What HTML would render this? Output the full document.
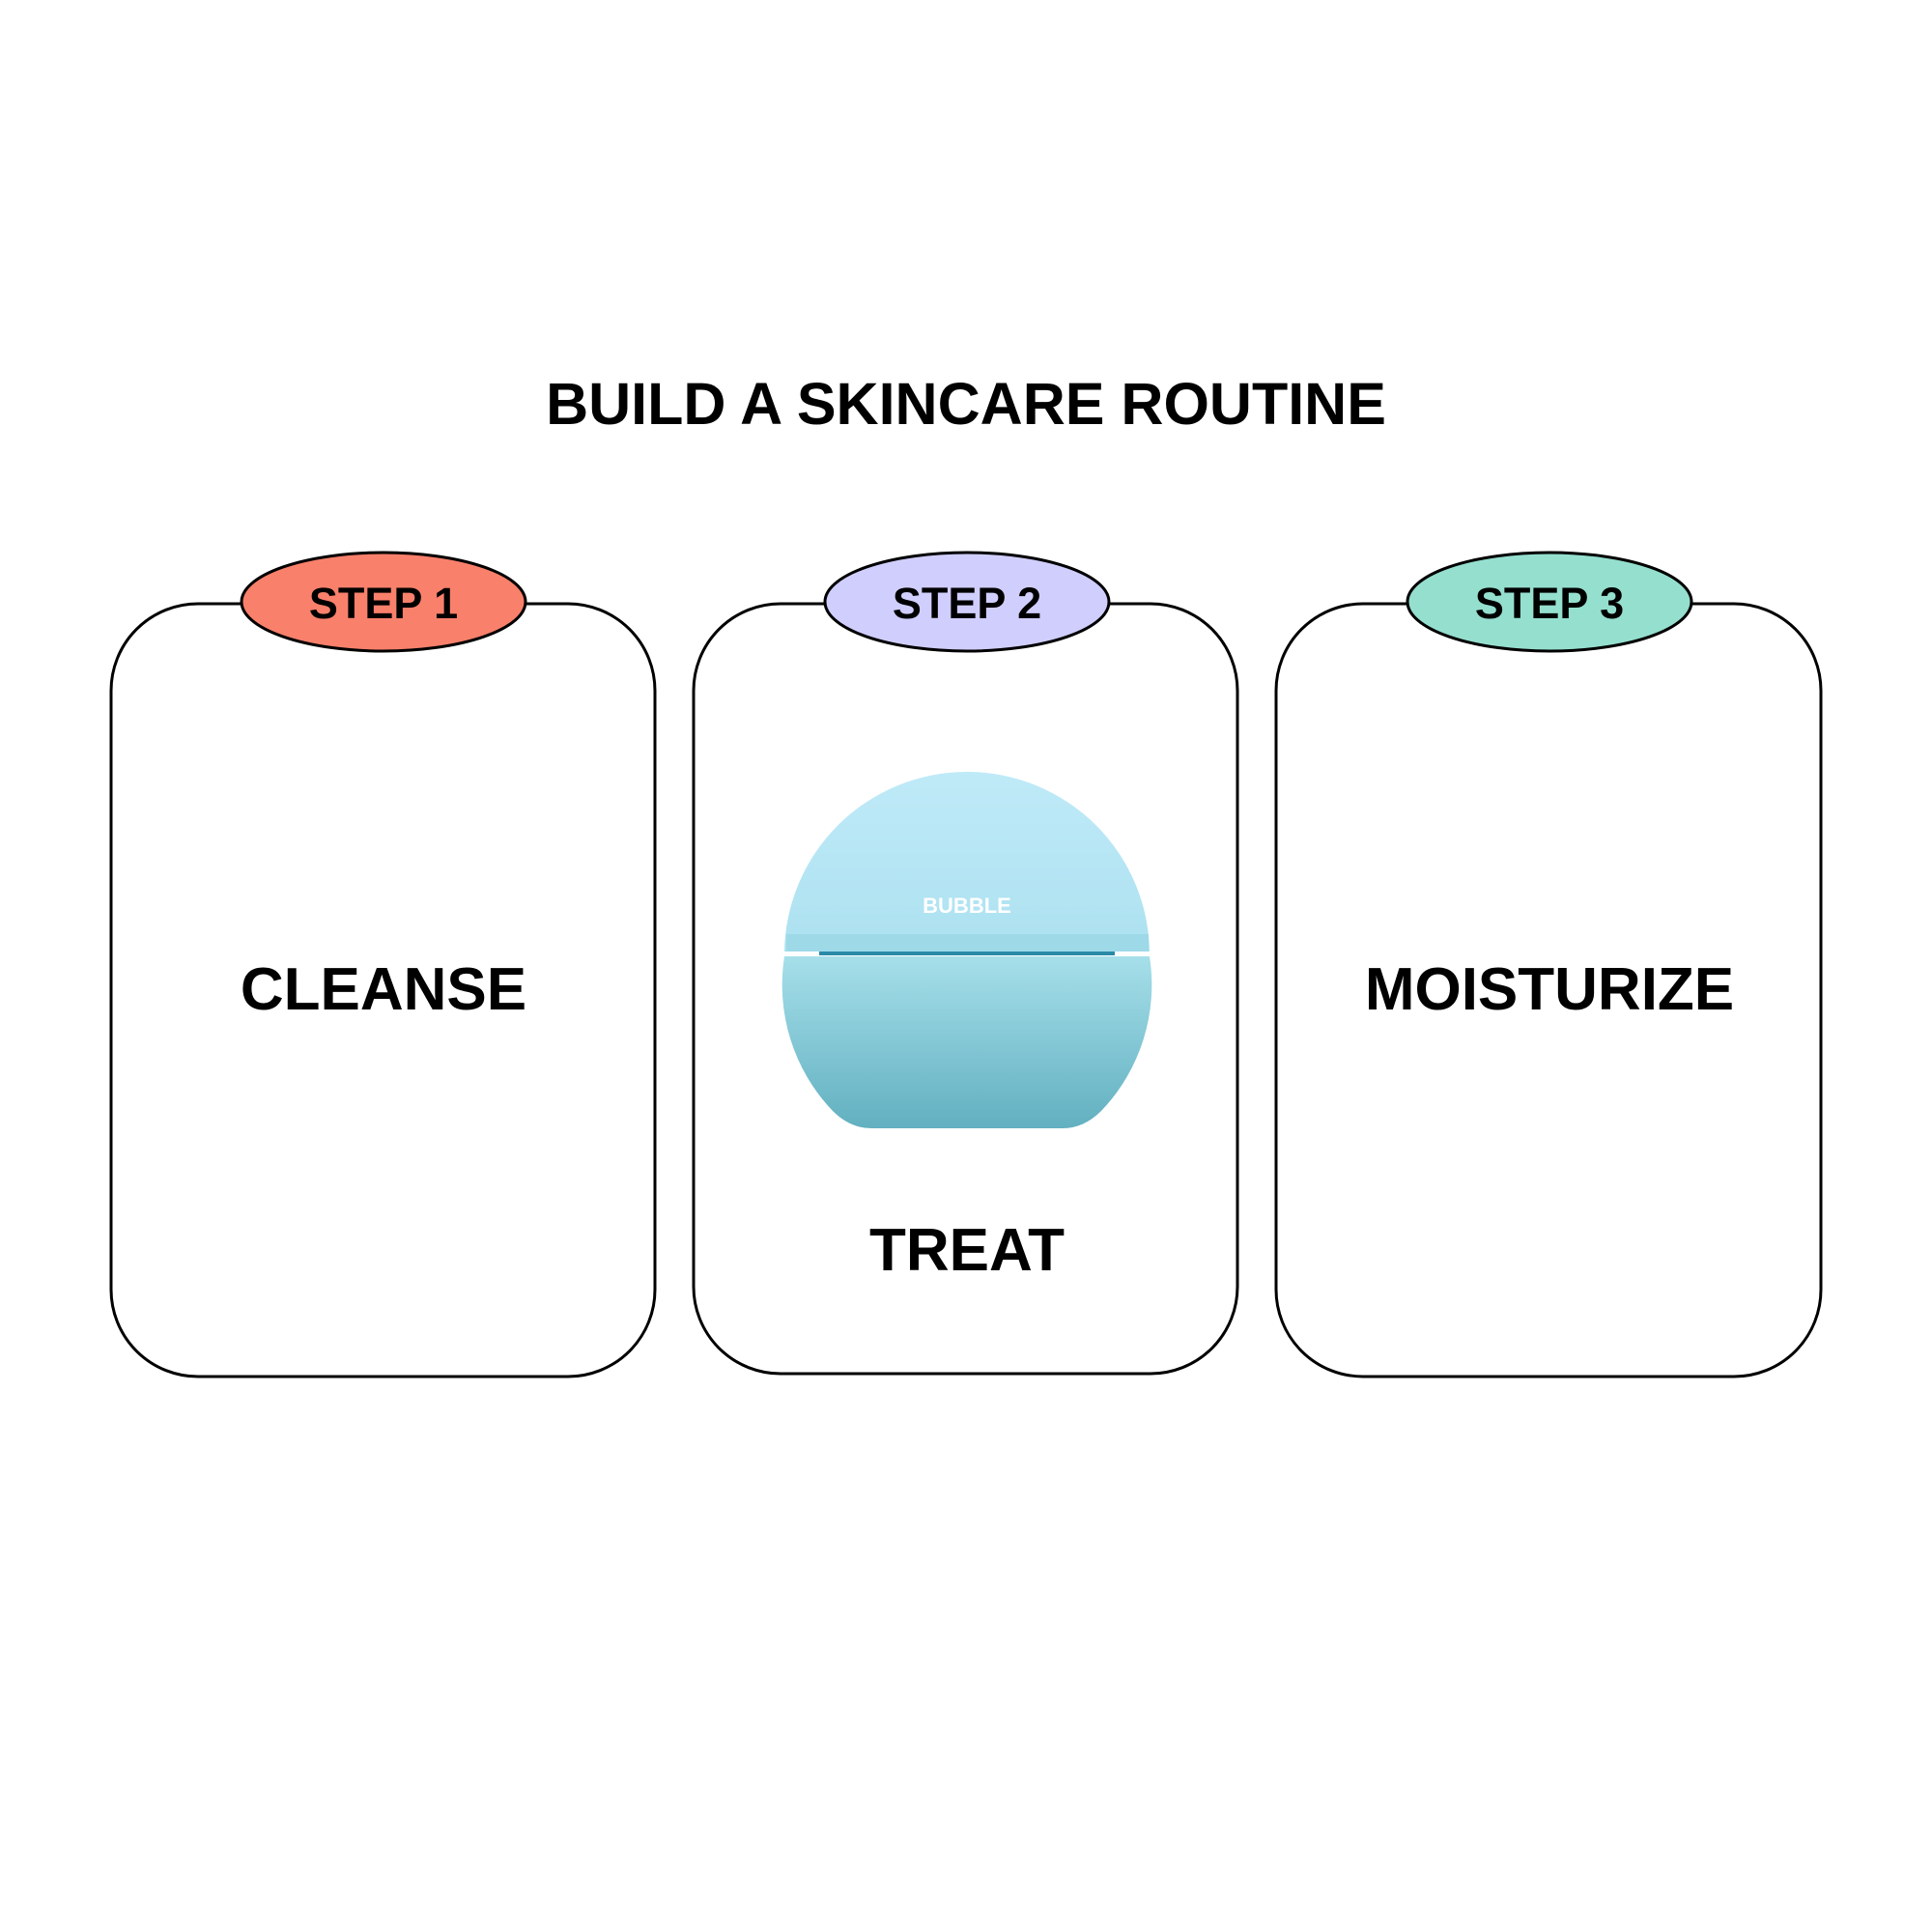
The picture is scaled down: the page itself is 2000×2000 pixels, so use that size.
<!DOCTYPE html>
<html><head><meta charset="utf-8"><style>
html,body{margin:0;padding:0;background:#fff}
svg{display:block}
text{font-family:"Liberation Sans",sans-serif;font-weight:bold;fill:#000}
</style></head><body>
<svg width="2000" height="2000" viewBox="0 0 2000 2000" xmlns="http://www.w3.org/2000/svg">
<defs>
<linearGradient id="lid" x1="0" y1="0" x2="0" y2="1">
<stop offset="0" stop-color="#bfeaf8"/><stop offset="1" stop-color="#9ad8e8"/>
</linearGradient>
<linearGradient id="base" x1="0" y1="0" x2="0" y2="1">
<stop offset="0" stop-color="#a6dfea"/><stop offset="1" stop-color="#62b0c0"/>
</linearGradient>
<clipPath id="top"><rect x="800" y="780" width="400" height="205"/></clipPath>
</defs>
<text x="1000" y="439" font-size="61" text-anchor="middle">BUILD A SKINCARE ROUTINE</text>

<rect x="115" y="625" width="563" height="800" rx="90" fill="none" stroke="#000" stroke-width="3"/>
<rect x="718" y="625" width="563" height="797" rx="90" fill="none" stroke="#000" stroke-width="3"/>
<rect x="1321" y="625" width="564" height="800" rx="90" fill="none" stroke="#000" stroke-width="3"/>

<ellipse cx="397" cy="623" rx="147" ry="51" fill="#f9806b" stroke="#000" stroke-width="3"/>
<ellipse cx="1001" cy="623" rx="147" ry="51" fill="#d0cefd" stroke="#000" stroke-width="3"/>
<ellipse cx="1604" cy="623" rx="147" ry="51" fill="#95dfcf" stroke="#000" stroke-width="3"/>
<text x="397" y="640" font-size="45" text-anchor="middle">STEP 1</text>
<text x="1001" y="640" font-size="45" text-anchor="middle">STEP 2</text>
<text x="1604" y="640" font-size="45" text-anchor="middle">STEP 3</text>

<text x="397" y="1045" font-size="62" text-anchor="middle">CLEANSE</text>
<text x="1604" y="1045" font-size="62" text-anchor="middle">MOISTURIZE</text>
<text x="1001" y="1315" font-size="62" text-anchor="middle">TREAT</text>

<circle cx="1001" cy="988" r="189" fill="url(#lid)" clip-path="url(#top)"/>
<rect x="814" y="967" width="375" height="18" fill="#9ed9e8"/>
<rect x="848" y="985" width="306" height="4" fill="#2a8aa8"/>
<path d="M812,990 L1190,990 A189,189 0 0 1 1140,1150 Q1122,1168 1100,1168 L902,1168 Q880,1168 862,1150 A189,189 0 0 1 812,990 Z" fill="url(#base)"/>
<text x="1001" y="945" font-size="22" text-anchor="middle" style="fill:#fff">BUBBLE</text>
</svg>
</body></html>
